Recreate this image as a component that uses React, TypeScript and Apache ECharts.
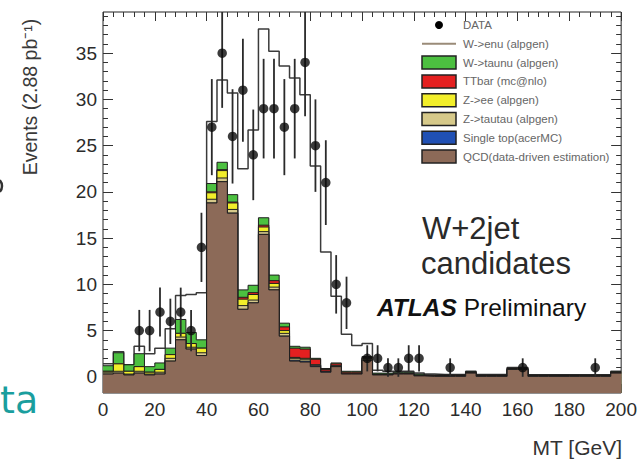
import React, { useEffect, useRef } from "react";
import * as echarts from "echarts";

// ---- binning (4 GeV bins from 0 to 200 GeV) ----
const BIN_WIDTH = 4;
const X_MAX = 200;

// ---- stacked MC / data-driven components, events per bin ----
const qcd = [
  0.3, 0.4, 0.2, 0.4, 0.2, 0.3, 1.7, 4.0, 3.0, 2.3,
  18.8, 21.1, 17.7, 7.3, 8.0, 15.4, 9.4, 4.4, 1.7, 1.6,
  1.1, 0.5, 1.1, 0.3, 0.3, 1.8, 0.2, 0.2, 0.3, 0.3,
  0.1, 0.05, 0.05, 0.05, 0.05, 0.4, 0.05, 0.05, 0.05, 0.8,
  0.8, 0.05, 0.05, 0.05, 0.05, 0.05, 0.05, 0.05, 0.05, 0.4,
];
const singleTop = [
  0, 0, 0, 0, 0, 0, 0, 0, 0, 0,
  0, 0, 0, 0, 0, 0, 0, 0, 0.1, 0.1,
  0.1, 0.05, 0, 0, 0, 0, 0, 0, 0, 0,
  0, 0, 0, 0, 0, 0, 0, 0, 0, 0,
  0, 0, 0, 0, 0, 0, 0, 0, 0, 0,
];
const zTauTau = [
  0.2, 0.2, 0.1, 0.2, 0.1, 0.2, 0.3, 0.3, 0.2, 0.3,
  0.4, 0.4, 0.4, 0.4, 0.3, 0.3, 0.3, 0.3, 0.2, 0.2,
  0.1, 0.05, 0.1, 0, 0, 0.2, 0, 0, 0, 0,
  0, 0, 0, 0, 0, 0, 0, 0, 0, 0,
  0, 0, 0, 0, 0, 0, 0, 0, 0, 0,
];
const zee = [
  0.1, 0.8, 0.3, 0.5, 0.2, 0.3, 0.4, 0.4, 0.4, 0.5,
  0.7, 0.8, 0.7, 0.7, 0.6, 0.5, 0.4, 0.3, 0.1, 0.1,
  0, 0, 0, 0, 0, 0, 0, 0, 0, 0,
  0, 0, 0, 0, 0, 0, 0, 0, 0, 0,
  0, 0, 0, 0, 0, 0, 0, 0, 0, 0,
];
const ttbar = [
  0, 0, 0, 0, 0, 0, 0, 0, 0, 0,
  0.1, 0.1, 0.1, 0.2, 0.2, 0.2, 0.3, 0.4, 1.0, 1.0,
  0.6, 0.2, 0.2, 0.2, 0.2, 0.1, 0.1, 0.1, 0.1, 0.1,
  0.1, 0.1, 0.1, 0.1, 0.1, 0.1, 0.1, 0.1, 0.1, 0.1,
  0.1, 0.1, 0.1, 0.1, 0.1, 0.1, 0.1, 0.1, 0.1, 0.1,
];
const wTauNu = [
  0.6, 1.2, 0.7, 1.4, 0.6, 0.7, 0.7, 1.5, 1.2, 0.9,
  0.9, 0.8, 0.8, 0.8, 0.8, 0.8, 0.6, 0.4, 0.2, 0.2,
  0.1, 0.1, 0.1, 0.1, 0.1, 0.1, 0.1, 0.1, 0.1, 0.1,
  0.1, 0.05, 0.05, 0.05, 0.05, 0.05, 0.05, 0.05, 0.05, 0.05,
  0.05, 0.05, 0.05, 0.05, 0.05, 0.05, 0.05, 0.05, 0.05, 0.05,
];
const wENu = [
  0.2, 0.1, 0.0, 0.8, 1.4, 1.6, 2.1, 2.6, 4.1, 5.1,
  6.7, 8.9, 11.0, 13.1, 16.8, 20.4, 24.2, 27.8, 29.0, 27.3,
  20.8, 12.6, 7.2, 4.0, 2.8, 1.4, 0.3, 0.2, 0.1, 0.1,
  0.1, 0.1, 0.05, 0.05, 0.05, 0.05, 0.05, 0.05, 0.05, 0.05,
  0.05, 0.03, 0.03, 0.03, 0.03, 0.03, 0.03, 0.03, 0.03, 0.05,
];

// ---- observed data (bin centres, counts) ----
const dataMT = [14, 18, 22, 26, 30, 34, 38, 42, 46, 50, 54, 58, 62, 66, 70, 74, 78, 82, 86, 90, 94, 102, 106, 110, 114, 118, 122, 134, 162, 190];
const dataCounts = [5, 5, 7, 6, 7, 5, 14, 27, 35, 26, 31, 24, 29, 29, 27, 29, 34, 25, 21, 10, 8, 2, 2, 1, 1, 2, 2, 1, 1, 1];

// ---- axis ticks ----
const yMajorTicks = [0, 5, 10, 15, 20, 25, 30, 35];
const Y_MIN = -1.75;
const Y_MAX = 39.45;

const FONT = "'Liberation Sans', Arial, Helvetica, sans-serif";

const legendEntries = [
  { label: "DATA", kind: "marker", color: "#000" },
  { label: "W->enu (alpgen)", kind: "line", color: "#9a8b78" },
  { label: "W->taunu (alpgen)", kind: "box", color: "#4cc040" },
  { label: "TTbar (mc@nlo)", kind: "box", color: "#e42020" },
  { label: "Z->ee (alpgen)", kind: "box", color: "#f2ee2a" },
  { label: "Z->tautau (alpgen)", kind: "box", color: "#d6c98a" },
  { label: "Single top(acerMC)", kind: "box", color: "#2050b4" },
  { label: "QCD(data-driven estimation)", kind: "box", color: "#8c6a58" },
];

function toSteps(values: number[]) {
  const pts = values.map((v, i) => [i * BIN_WIDTH, v]);
  pts.push([X_MAX, values[values.length - 1]]);
  return pts;
}

export default function App() {
  const ref = useRef<HTMLDivElement>(null);

  useEffect(() => {
    if (!ref.current) return;
    const chart = echarts.init(ref.current, null, { renderer: "svg" });

    // stack order bottom -> top
    const layers = [
      { name: "QCD", values: qcd, color: "#8c6a58" },
      { name: "Single top", values: singleTop, color: "#2050b4" },
      { name: "Z->tautau", values: zTauTau, color: "#d6c98a" },
      { name: "Z->ee", values: zee, color: "#f2ee2a" },
      { name: "TTbar", values: ttbar, color: "#e42020" },
      { name: "W->taunu", values: wTauNu, color: "#4cc040" },
    ];
    // cumulative sums (like THStack)
    const cum: number[][] = [];
    let running = qcd.map(() => 0);
    layers.forEach((l) => {
      running = running.map((r, i) => r + l.values[i]);
      cum.push(running.slice());
    });
    const totalWithSignal = running.map((r, i) => r + wENu[i]);

    const yMinor: number[] = [];
    for (let v = -1; v <= 39; v++) if (v % 5 !== 0) yMinor.push(v);

    const tickColor = "#333";
    const mkY = (position: string, ticks: number[], len: number, labels: boolean) => ({
      type: "value",
      min: Y_MIN,
      max: Y_MAX,
      position,
      axisLine: { show: false, onZero: false },
      axisTick: { show: true, inside: true, length: len, customValues: ticks, lineStyle: { color: tickColor, width: 1 } },
      axisLabel: labels
        ? { show: true, customValues: yMajorTicks, fontSize: 19, color: "#2b2b2b", fontFamily: FONT, margin: 6 }
        : { show: false },
      splitLine: { show: false },
    });
    const mkX = (position: string, labels: boolean) => ({
      type: "value",
      min: 0,
      max: X_MAX,
      interval: 20,
      position,
      axisLine: { show: false, onZero: false },
      axisTick: { show: true, inside: true, length: 9, lineStyle: { color: tickColor, width: 1 } },
      minorTick: { show: true, splitNumber: 5, length: 5, lineStyle: { color: tickColor, width: 1 } },
      axisLabel: labels
        ? { show: true, fontSize: 19, color: "#2b2b2b", fontFamily: FONT, margin: 7 }
        : { show: false },
      splitLine: { show: false },
      minorSplitLine: { show: false },
    });

    const series: any[] = [];
    series.push({
      type: "line",
      name: "W->enu",
      step: "end",
      data: toSteps(totalWithSignal),
      symbol: "none",
      showSymbol: false,
      silent: true,
      lineStyle: { color: "#3a3a3a", width: 1.5 },
      itemStyle: { color: "#3a3a3a" },
      z: 2,
    });
    // draw from the top of the stack downward, each filled to zero
    for (let k = layers.length - 1; k >= 0; k--) {
      series.push({
        type: "line",
        name: layers[k].name,
        step: "end",
        data: toSteps(cum[k]),
        symbol: "none",
        showSymbol: false,
        silent: true,
        lineStyle: { color: "#1e1e1e", width: 1 },
        itemStyle: { color: layers[k].color },
        areaStyle: { color: layers[k].color, opacity: 1, origin: "start" },
        z: 3 + (layers.length - 1 - k),
      });
    }
    series.push({
      type: "custom",
      name: "errors",
      data: dataMT.map((x, i) => [x, dataCounts[i], Math.sqrt(dataCounts[i])]),
      encode: { x: 0, y: 1 },
      clip: true,
      silent: true,
      z: 11,
      renderItem: (_params: any, api: any) => {
        const x = api.value(0);
        const y = api.value(1);
        const e = api.value(2);
        const lo = api.coord([x, y - e]);
        const hi = api.coord([x, y + e]);
        return {
          type: "line",
          shape: { x1: lo[0], y1: lo[1], x2: hi[0], y2: hi[1] },
          style: { stroke: "#2a2a2a", lineWidth: 1.8 },
        };
      },
    });
    series.push({
      type: "scatter",
      name: "DATA",
      data: dataMT.map((x, i) => [x, dataCounts[i]]),
      symbol: "circle",
      symbolSize: 9.5,
      itemStyle: { color: "#0a0a0a" },
      silent: true,
      z: 12,
    });

    // legend drawn as graphics
    const legendGraphics: any[] = [];
    const lx0 = 422;
    const lw = 34;
    const ly0 = 25;
    const lstep = 18.8;
    legendEntries.forEach((e, i) => {
      const cy = ly0 + i * lstep;
      if (e.kind === "marker") {
        legendGraphics.push({ type: "circle", z: 100, shape: { cx: lx0 + lw / 2, cy, r: 4 }, style: { fill: e.color } });
      } else if (e.kind === "line") {
        legendGraphics.push({ type: "line", z: 100, shape: { x1: lx0, y1: cy, x2: lx0 + lw, y2: cy }, style: { stroke: e.color, lineWidth: 2 } });
      } else {
        legendGraphics.push({
          type: "rect",
          z: 100,
          shape: { x: lx0, y: cy - 6.5, width: lw, height: 13 },
          style: { fill: e.color, stroke: "#222", lineWidth: 1.5 },
        });
      }
      legendGraphics.push({
        type: "text",
        z: 100,
        x: 463,
        y: cy,
        style: { text: e.label, fontSize: 11.5, fill: "#666", fontFamily: FONT, align: "left", verticalAlign: "middle" },
      });
    });

    chart.setOption({
      animation: false,
      backgroundColor: "#ffffff",
      grid: { left: 103, right: 18, top: 12, bottom: 66, show: true, borderColor: "#222", borderWidth: 1, backgroundColor: "transparent" },
      xAxis: [mkX("bottom", true), mkX("top", false)],
      yAxis: [
        mkY("left", yMajorTicks, 10, true),
        mkY("left", yMinor, 5, false),
        mkY("right", yMajorTicks, 10, false),
        mkY("right", yMinor, 5, false),
      ],
      series,
      graphic: [
        ...legendGraphics,
        {
          type: "text",
          z: 100,
          x: 30,
          y: 97,
          rotation: Math.PI / 2,
          style: { text: "Events (2.88 pb⁻¹)", fontSize: 19.5, fill: "#3a3a3a", fontFamily: FONT, align: "center", verticalAlign: "middle" },
        },
        {
          type: "text",
          z: 100,
          x: 622,
          y: 447,
          style: { text: "MT [GeV]", fontSize: 21, fill: "#333", fontFamily: FONT, align: "right", verticalAlign: "middle" },
        },
        {
          type: "text",
          z: 100,
          x: 422,
          y: 228,
          style: { text: "W+2jet", fontSize: 31, fill: "#2a2a2a", fontFamily: FONT, align: "left", verticalAlign: "middle" },
        },
        {
          type: "text",
          z: 100,
          x: 421,
          y: 263,
          style: { text: "candidates", fontSize: 31, fill: "#2a2a2a", fontFamily: FONT, align: "left", verticalAlign: "middle" },
        },
        {
          type: "text",
          z: 100,
          x: 377,
          y: 307,
          style: {
            text: "{b|ATLAS} Preliminary",
            fontSize: 24.5,
            fill: "#111",
            fontFamily: FONT,
            align: "left",
            verticalAlign: "middle",
            rich: { b: { fontSize: 24.5, fontWeight: "bold", fontStyle: "italic", fill: "#111", fontFamily: FONT } },
          },
        },
        {
          type: "text",
          z: 100,
          x: 0,
          y: 400,
          style: { text: "ta", fontSize: 38, fill: "#1a9e9e", fontFamily: "'DejaVu Sans', sans-serif", align: "left", verticalAlign: "middle" },
        },
        {
          type: "arc",
          z: 100,
          shape: { cx: -7, cy: 186, r: 9, startAngle: -0.7, endAngle: 0.7 },
          style: { stroke: "#333", lineWidth: 2.5, fill: "none" },
        },
      ],
    });

    return () => chart.dispose();
  }, []);

  return <div ref={ref} style={{ width: 640, height: 459, position: "absolute", left: 0, top: 0 }} />;
}
